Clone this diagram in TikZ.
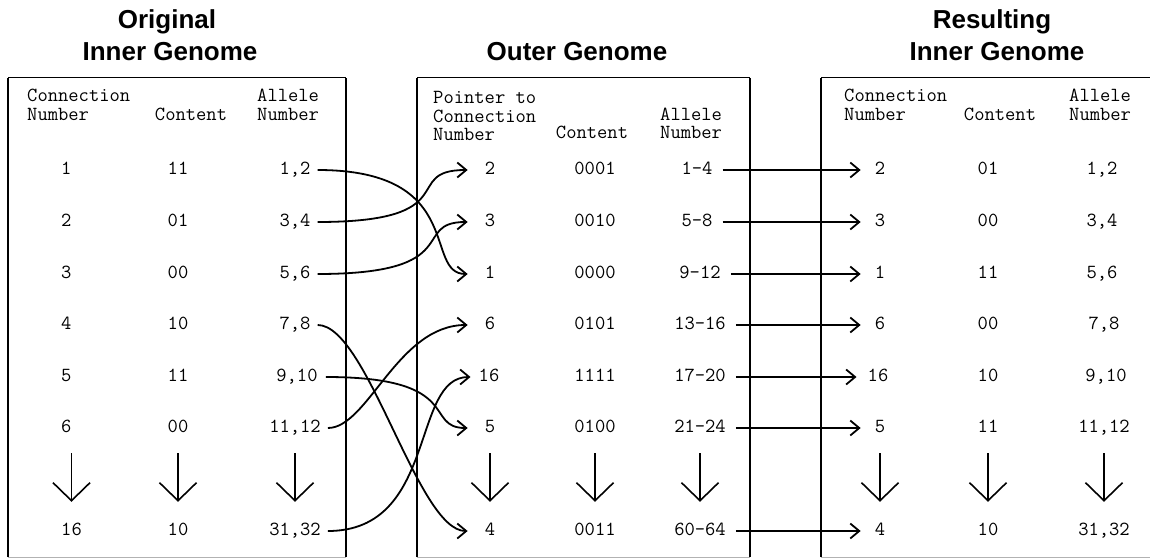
\documentclass[tikz,border=0pt]{standalone}
\usepackage{fontspec}
\setsansfont{Liberation Sans}
\usetikzlibrary{arrows.meta}
\begin{document}
\begin{tikzpicture}[x=1pt,y=-1pt,
  title/.style={font=\sffamily\bfseries\fontsize{26}{30}\selectfont, inner sep=0pt, anchor=base},
  hdr/.style={font=\ttfamily\fontsize{20}{20}\selectfont, inner sep=0pt, anchor=base west},
  hdrc/.style={font=\ttfamily\fontsize{20}{20}\selectfont, inner sep=0pt, anchor=base},
  cell/.style={font=\ttfamily\fontsize{20}{20}\selectfont, inner sep=0pt, text height=11pt, text depth=3pt},
  link/.style={line width=1.8pt, -{Straight Barb[length=9pt,width=15pt]}},
  downarr/.style={line width=1.6pt, -{Straight Barb[length=18pt,width=37pt]}, shorten <=25pt, shorten >=22pt},
  vedge/.style={line width=2pt},
  tedge/.style={line width=1pt},
  bedge/.style={line width=0.8pt, draw=black!30}]
\useasboundingbox (0,0) rectangle (1150,559);
\fill[white] (0,0) rectangle (1150,559);

% boxes
\draw[vedge] (8,557) -- (8,78);
\draw[tedge] (8,78) -- (346,78);
\draw[vedge] (346,78) -- (346,557);
\draw[bedge] (8,557) -- (346,557);
\draw[vedge] (417,557) -- (417,78);
\draw[tedge] (417,78) -- (750,78);
\draw[vedge] (750,78) -- (750,557);
\draw[bedge] (417,557) -- (750,557);
\draw[vedge] (821,557) -- (821,78);
\draw[tedge] (821,78) -- (1150,78);
\draw[bedge] (821,557) -- (1150,557);

% titles
\node[title] (t1a) at (167,29) {Original};
\node[title] (t1b) at (170,61) {Inner Genome};
\node[title] (t2) at (577,61) {Outer Genome};
\node[title] (t3a) at (992,29) {Resulting};
\node[title] (t3b) at (997,61) {Inner Genome};

% headers box 1
\node[hdr] (h1a) at (27,102) {Connection};
\node[hdr] (h1b) at (27,121) {Number};
\node[hdrc] (h1c) at (191,121) {Content};
\node[hdr] (h1d) at (257,102) {Allele};
\node[hdr] (h1e) at (257,121) {Number};
% headers box 2
\node[hdr] (h2a) at (433,103) {Pointer to};
\node[hdr] (h2b) at (433,122) {Connection};
\node[hdr] (h2c) at (433,140) {Number};
\node[hdrc] (h2d) at (592,138) {Content};
\node[hdr] (h2e) at (660,121) {Allele};
\node[hdr] (h2f) at (660,139) {Number};
% headers box 3
\node[hdr] (h3a) at (844,102) {Connection};
\node[hdr] (h3b) at (844,121) {Number};
\node[hdrc] (h3c) at (1000,121) {Content};
\node[hdr] (h3d) at (1069,102) {Allele};
\node[hdr] (h3e) at (1069,121) {Number};

% box 1 cells
\node[cell,anchor=west] (a1) at (61,170) {1};
\node[cell,anchor=west] (a2) at (61,222) {2};
\node[cell,anchor=west] (a3) at (61,274) {3};
\node[cell,anchor=west] (a4) at (61,325) {4};
\node[cell,anchor=west] (a5) at (61,377) {5};
\node[cell,anchor=west] (a6) at (61,428) {6};
\node[cell,anchor=west] (a7) at (61,531) {16};
\node[cell] (b1) at (178,170) {11};
\node[cell] (b2) at (178,222) {01};
\node[cell] (b3) at (178,274) {00};
\node[cell] (b4) at (178,325) {10};
\node[cell] (b5) at (178,377) {11};
\node[cell] (b6) at (178,428) {00};
\node[cell] (b7) at (178,531) {10};
\node[cell] (c1) at (295,170) {1,2};
\node[cell] (c2) at (295,222) {3,4};
\node[cell] (c3) at (295,274) {5,6};
\node[cell] (c4) at (295,325) {7,8};
\node[cell] (c5) at (297,377) {9,10};
\node[cell] (c6) at (295,428) {11,12};
\node[cell] (c7) at (295,531) {31,32};

% box 2 cells
\node[cell] (p1) at (490,170) {2};
\node[cell] (p2) at (490,222) {3};
\node[cell] (p3) at (490,274) {1};
\node[cell] (p4) at (490,325) {6};
\node[cell] (p5) at (489,377) {16};
\node[cell] (p6) at (490,428) {5};
\node[cell] (p7) at (490,531) {4};
\node[cell] (q1) at (595,170) {0001};
\node[cell] (q2) at (595,222) {0010};
\node[cell] (q3) at (595,274) {0000};
\node[cell] (q4) at (595,325) {0101};
\node[cell] (q5) at (595,377) {1111};
\node[cell] (q6) at (595,428) {0100};
\node[cell] (q7) at (595,531) {0011};
\node[cell] (r1) at (697,170) {1-4};
\node[cell] (r2) at (697,222) {5-8};
\node[cell] (r3) at (700,274) {9-12};
\node[cell] (r4) at (700,325) {13-16};
\node[cell] (r5) at (700,377) {17-20};
\node[cell] (r6) at (700,428) {21-24};
\node[cell] (r7) at (700,531) {60-64};

% box 3 cells
\node[cell] (s1) at (880,170) {2};
\node[cell] (s2) at (880,222) {3};
\node[cell] (s3) at (880,274) {1};
\node[cell] (s4) at (880,325) {6};
\node[cell] (s5) at (878,377) {16};
\node[cell] (s6) at (880,428) {5};
\node[cell] (s7) at (880,531) {4};
\node[cell] (t1) at (988,170) {01};
\node[cell] (t2c) at (988,222) {00};
\node[cell] (t3) at (988,274) {11};
\node[cell] (t4) at (988,325) {00};
\node[cell] (t5) at (988,377) {10};
\node[cell] (t6) at (988,428) {11};
\node[cell] (t7) at (988,531) {10};
\node[cell] (u1) at (1102,170) {1,2};
\node[cell] (u2) at (1102,222) {3,4};
\node[cell] (u3) at (1102,274) {5,6};
\node[cell] (u4) at (1104,325) {7,8};
\node[cell] (u5) at (1106,377) {9,10};
\node[cell] (u6) at (1104,428) {11,12};
\node[cell] (u7) at (1104,531) {31,32};

% down arrows
\foreach \col in {a,b,c,p,q,r,s,t,u}{
  \draw[downarr] (\col7 |- \col6) -- (\col7);
}

% links box 1 -> box 2
\draw[link] ([xshift=7pt]c1.east) .. controls +(150,0) and +(-45,0) .. ([xshift=-17pt]p3.west);
\draw[link] ([xshift=7pt]c2.east) .. controls +(150,0) and +(-68,0) .. ([xshift=-17pt]p1.west);
\draw[link] ([xshift=7pt]c3.east) .. controls +(150,0) and +(-58,0) .. ([xshift=-17pt]p2.west);
\draw[link] ([xshift=7pt]c4.east) .. controls +(50,0) and +(-50,0) .. ([xshift=-17pt]p7.west);
\draw[link] ([xshift=8pt]c5.east) .. controls +(140,0) and +(-45,0) .. ([xshift=-17pt]p6.west);
\draw[link] ([xshift=7pt]c6.east) .. controls +(40,0) and +(-70,0) .. ([xshift=-17pt]p4.west);
\draw[link] ([xshift=7pt]c7.east) .. controls +(110,0) and +(-60,0) .. ([xshift=-8pt]p5.west);

% links box 2 -> box 3
\foreach \i in {1,2,3,4,6,7}{
  \draw[link] ([xshift=10pt]r\i.east) -- ([xshift=-14pt]s\i.west);
}
\draw[link] ([xshift=10pt]r5.east) -- ([xshift=-11pt]s5.west);
\end{tikzpicture}
\end{document}
